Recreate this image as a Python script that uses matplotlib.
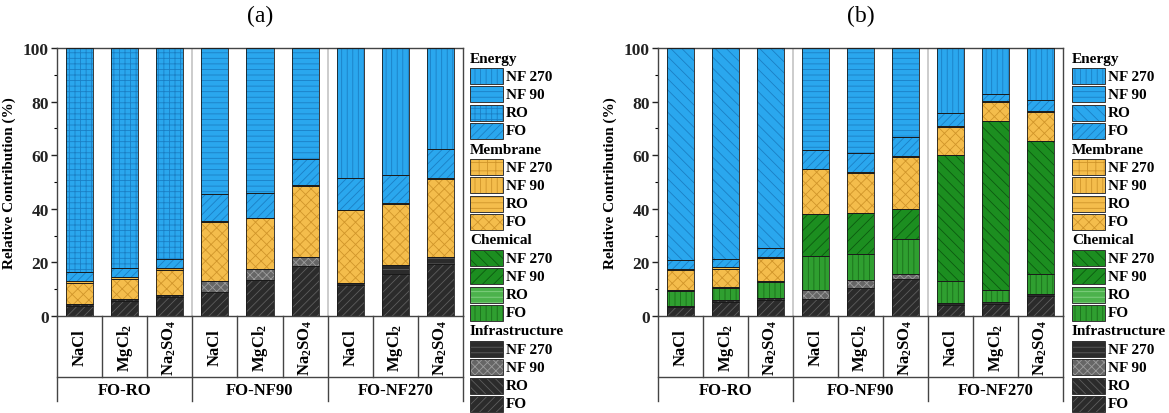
import numpy as np
import matplotlib.pyplot as plt
from matplotlib.patches import Rectangle
from matplotlib.ticker import MultipleLocator

plt.rcParams['font.family'] = 'Liberation Serif'
plt.rcParams['mathtext.fontset'] = 'custom'
plt.rcParams['mathtext.rm'] = 'Liberation Serif:bold'
plt.rcParams['mathtext.bf'] = 'Liberation Serif:bold'
plt.rcParams['mathtext.default'] = 'bf'
plt.rcParams['hatch.linewidth'] = 0.6

salts = ['NaCl', r'MgCl$_2$', r'Na$_2$SO$_4$'] * 3
groups = ['FO-RO', 'FO-NF90', 'FO-NF270']
stages = ['RO', 'NF90', 'NF270']

# (a) contributions in %, bottom to top; "2" = second stage (RO / NF90 / NF270)
a_infra_fo = [3.8, 5.6, 7.0, 9.0, 13.6, 18.7, 11.4, 15.8, 19.5]
a_infra_2 = [0.7, 0.6, 0.7, 4.2, 3.8, 3.3, 1.0, 3.4, 2.6]
a_chem_fo = [0, 0, 0, 0, 0, 0, 0, 0, 0]
a_chem_2 = [0, 0, 0, 0, 0, 0, 0, 0, 0]
a_mem_fo = [7.9, 7.7, 9.6, 21.9, 19.0, 26.5, 27.0, 22.7, 29.1]
a_mem_2 = [0.5, 0.5, 0.5, 0.3, 0.3, 0.3, 0.3, 0.3, 0.3]
a_energy_fo = [3.4, 3.5, 3.6, 10.0, 9.1, 9.9, 11.9, 10.3, 10.7]
a_energy_2 = [83.7, 82.1, 78.6, 54.6, 54.2, 41.3, 48.4, 47.5, 37.8]

# (b)
b_infra_fo = [3.2, 5.2, 6.1, 6.5, 10.4, 13.9, 4.0, 4.3, 7.6]
b_infra_2 = [0.5, 0.6, 0.6, 3.1, 2.9, 1.9, 1.0, 0.9, 0.7]
b_chem_fo = [5.8, 4.7, 6.1, 12.7, 10.0, 13.1, 8.1, 4.6, 7.5]
b_chem_2 = [0.3, 0.3, 0.3, 15.6, 15.3, 11.1, 47.1, 63.0, 49.5]
b_mem_fo = [7.2, 6.9, 8.5, 16.8, 14.8, 19.3, 10.3, 7.0, 10.8]
b_mem_2 = [0.7, 0.6, 0.5, 0.3, 0.3, 0.3, 0.3, 0.3, 0.3]
b_energy_fo = [3.1, 2.8, 3.4, 7.1, 7.2, 7.2, 4.9, 2.7, 4.3]
b_energy_2 = [79.2, 78.9, 74.5, 37.9, 39.1, 33.2, 24.3, 17.2, 19.3]

BLUE, BLUE_H = '#2aa7ee', '#1b7fc4'
YEL, YEL_H = '#f4bd4c', '#d0952a'
GRN, GRN_H = '#2f9f30', '#1a6e1a'
DGRN, DGRN_H = '#1c8e20', '#0c5a10'
LGRN, LGRN_H = '#4cb24c', '#86d286'
BLK, BLK_H = '#2b2b2b', '#5e5e5e'
GRY, GRY_H = '#666666', '#9c9c9c'

def styles(energy_ro_hatch):
    return {
        ('Energy', 'NF270'): (BLUE, BLUE_H, '|||'),
        ('Energy', 'NF90'): (BLUE, BLUE_H, '---'),
        ('Energy', 'RO'): (BLUE, BLUE_H, energy_ro_hatch),
        ('Energy', 'FO'): (BLUE, BLUE_H, '////'),
        ('Membrane', 'NF270'): (YEL, YEL_H, '++'),
        ('Membrane', 'NF90'): (YEL, YEL_H, '|||'),
        ('Membrane', 'RO'): (YEL, YEL_H, '---'),
        ('Membrane', 'FO'): (YEL, YEL_H, 'xxx'),
        ('Chemical', 'NF270'): (DGRN, DGRN_H, '\\\\\\'),
        ('Chemical', 'NF90'): (DGRN, DGRN_H, '///'),
        ('Chemical', 'RO'): (LGRN, LGRN_H, '---'),
        ('Chemical', 'FO'): (GRN, GRN_H, '|||'),
        ('Infrastructure', 'NF270'): (BLK, BLK_H, '---'),
        ('Infrastructure', 'NF90'): (GRY, GRY_H, 'xxxx'),
        ('Infrastructure', 'RO'): (BLK, BLK_H, '\\\\\\\\'),
        ('Infrastructure', 'FO'): (BLK, BLK_H, '////'),
    }

W, H = 1169, 414
fig = plt.figure(figsize=(W / 100, H / 100), dpi=100)


def draw_seg(ax, x, h, bottom, st):
    fc, hc, hatch = st
    ax.bar(x, h, 0.6, bottom=bottom, color=fc, edgecolor=hc, hatch=hatch,
           linewidth=0, zorder=2)
    ax.bar(x, h, 0.6, bottom=bottom, fill=False, edgecolor='#1a1a1a',
           linewidth=0.6, zorder=3)


def panel(left_px, right_px, title, layers, sty, legend_x):
    top_px, bot_px = 49, 317
    ax = fig.add_axes([left_px / W, 1 - bot_px / H,
                       (right_px - left_px) / W, (bot_px - top_px) / H])
    x = np.arange(9)
    bottom = np.zeros(9)
    order = ['Infrastructure', 'Infrastructure', 'Chemical', 'Chemical',
             'Membrane', 'Membrane', 'Energy', 'Energy']
    for k, (cat, vals) in enumerate(zip(order, layers)):
        vals = np.array(vals, dtype=float)
        for g in range(3):
            idx = slice(3 * g, 3 * g + 3)
            stage = 'FO' if k % 2 == 0 else stages[g]
            draw_seg(ax, x[idx], vals[idx], bottom[idx], sty[(cat, stage)])
        bottom += vals

    ax.set_xlim(-0.5, 8.5)
    ax.set_ylim(0, 100)
    for xv in (2.5, 5.5):
        ax.axvline(xv, color='#c4c4c4', lw=1.2, zorder=1)
    ax.set_xticks([])
    ax.yaxis.set_major_locator(MultipleLocator(20))
    ax.yaxis.set_minor_locator(MultipleLocator(10))
    ax.tick_params(axis='y', direction='out', length=4, width=1,
                   labelsize=12.5, colors='#222', pad=2)
    ax.tick_params(axis='y', which='minor', length=2.5, width=0.8)
    for lab in ax.get_yticklabels():
        lab.set_fontweight('bold')
    for s in ax.spines.values():
        s.set_color('#444')
        s.set_linewidth(1)
    ax.set_ylabel('Relative Contribution (%)', fontsize=11, fontweight='bold')
    ax.yaxis.set_label_coords(-41 / (right_px - left_px), 0.5)
    ax.text(0.5, 1 + 33 / 268, title, transform=ax.transAxes,
            ha='center', va='center', fontsize=17)

    # category table under the bars
    tr = ax.get_xaxis_transform()
    row = -(378 - 317) / 268
    low = -(402 - 317) / 268
    for xv in np.arange(-0.5, 9, 1):
        is_group = xv in (-0.5, 2.5, 5.5, 8.5)
        ax.plot([xv, xv], [0, low if is_group else row], transform=tr,
                color='#444', lw=1, clip_on=False)
    ax.plot([-0.5, 8.5], [row, row], transform=tr, color='#444', lw=1,
            clip_on=False)
    for xi, s in zip(x, salts):
        ax.text(xi, row / 2, s, transform=tr, rotation=90, ha='center',
                va='center', fontsize=12, fontweight='bold')
    for g, name in enumerate(groups):
        ax.text(3 * g + 1, -(391 - 317) / 268, name, transform=tr,
                ha='center', va='center', fontsize=12, fontweight='bold')

    # legend column
    cats = ['Energy', 'Membrane', 'Chemical', 'Infrastructure']
    entries = [('NF270', 'NF 270'), ('NF90', 'NF 90'), ('RO', 'RO'),
               ('FO', 'FO')]
    pitch = 18.2
    r = 0
    for cat in cats:
        yc = 59 + r * pitch
        fig.text(legend_x / W, 1 - yc / H, cat, ha='left', va='center',
                 fontsize=11, fontweight='bold')
        r += 1
        for key, lab in entries:
            yc = 59 + r * pitch
            fc, hc, hatch = sty[(cat, key)]
            bx = (legend_x / W, 1 - (yc + 8) / H)
            fig.add_artist(Rectangle(bx, 33 / W, 16 / H, facecolor=fc,
                                     edgecolor=hc, hatch=hatch, lw=0,
                                     transform=fig.transFigure))
            fig.add_artist(Rectangle(bx, 33 / W, 16 / H, fill=False,
                                     edgecolor='#333', lw=0.7,
                                     transform=fig.transFigure))
            fig.text((legend_x + 36) / W, 1 - yc / H, lab, ha='left',
                     va='center', fontsize=11, fontweight='bold')
            r += 1
    return ax


panel(57, 463, '(a)',
      [a_infra_fo, a_infra_2, a_chem_fo, a_chem_2,
       a_mem_fo, a_mem_2, a_energy_fo, a_energy_2],
      styles('+++'), 470)
panel(658, 1063, '(b)',
      [b_infra_fo, b_infra_2, b_chem_fo, b_chem_2,
       b_mem_fo, b_mem_2, b_energy_fo, b_energy_2],
      styles('\\\\\\'), 1072)

fig.savefig('out.png', dpi=100)
